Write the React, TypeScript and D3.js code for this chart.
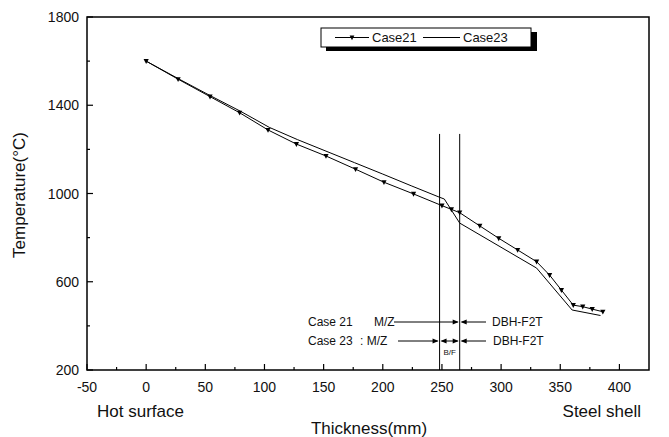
import React from "react";
import * as d3 from "d3";

const case21X = [0, 27, 54, 79, 103, 127, 152, 177, 201, 226, 250, 258, 265, 282, 298, 314, 330, 341, 351, 361, 369, 377, 386];
const case21Y = [1600, 1518, 1439, 1366, 1288, 1224, 1170, 1110, 1051, 998, 945, 928, 913, 853, 797, 744, 691, 630, 562, 494, 487, 476, 464];
const case23X = [0, 27, 54, 80, 104, 128, 152, 176, 200, 224, 248, 252, 265, 330, 360, 384];
const case23Y = [1600, 1521, 1444, 1372, 1300, 1244, 1192, 1140, 1088, 1035, 983, 975, 866, 662, 472, 447];
const xTicks = [-50, 0, 50, 100, 150, 200, 250, 300, 350, 400];
const xMinor = [-25, 25, 75, 125, 175, 225, 275, 325, 375];
const yTicks = [200, 600, 1000, 1400, 1800];
const yMinor = [400, 800, 1200, 1600];
const boundaries = [248, 265];
const legendNames = ["Case21", "Case23"];

const FONT = "'Liberation Sans', Arial, Helvetica, sans-serif";

export default function App() {
  const W = 669, H = 437;
  const x = d3.scaleLinear().domain([-50, 425]).range([87, 649]);
  const y = d3.scaleLinear().domain([200, 1800]).range([370, 17]);
  const line = d3.line<[number, number]>().x(d => x(d[0])).y(d => y(d[1]));
  const d21 = case21X.map((v, i) => [v, case21Y[i]] as [number, number]);
  const d23 = case23X.map((v, i) => [v, case23Y[i]] as [number, number]);
  const tri = (cx: number, cy: number, s = 2.6) =>
    `M${cx - s},${cy - s * 0.8}L${cx + s},${cy - s * 0.8}L${cx},${cy + s * 1.1}Z`;
  const arrowR = (tx: number, ty: number) => `M${tx},${ty}L${tx - 6},${ty - 2.5}L${tx - 6},${ty + 2.5}Z`;
  const arrowL = (tx: number, ty: number) => `M${tx},${ty}L${tx + 6},${ty - 2.5}L${tx + 6},${ty + 2.5}Z`;

  const bx0 = x(boundaries[0]), bx1 = x(boundaries[1]);
  const r1 = 322, r2 = 341;

  return (
    <svg width={W} height={H} style={{ position: "absolute", left: 0, top: 0, background: "#fff" }}
      fontFamily={FONT}>
      <rect x={0} y={0} width={W} height={H} fill="#fff" />
      {/* frame */}
      <rect x={x(-50)} y={y(1800)} width={x(425) - x(-50)} height={y(200) - y(1800)}
        fill="none" stroke="#000" strokeWidth={1.5} />
      {/* x ticks */}
      {xTicks.map(t => (
        <g key={"xt" + t}>
          <line x1={x(t)} x2={x(t)} y1={y(200)} y2={y(200) - 6} stroke="#000" strokeWidth={1.2} />
          <text x={x(t)} y={y(200) + 22} fontSize={14} textAnchor="middle" fill="#111">{t}</text>
        </g>
      ))}
      {xMinor.map(t => (
        <line key={"xm" + t} x1={x(t)} x2={x(t)} y1={y(200)} y2={y(200) - 3} stroke="#000" strokeWidth={1.2} />
      ))}
      {yTicks.map(t => (
        <g key={"yt" + t}>
          <line x1={x(-50)} x2={x(-50) + 6} y1={y(t)} y2={y(t)} stroke="#000" strokeWidth={1.2} />
          <text x={x(-50) - 8} y={y(t) + 5} fontSize={14} textAnchor="end" fill="#111">{t}</text>
        </g>
      ))}
      {yMinor.map(t => (
        <line key={"ym" + t} x1={x(-50)} x2={x(-50) + 3} y1={y(t)} y2={y(t)} stroke="#000" strokeWidth={1.2} />
      ))}
      {/* axis titles */}
      <text x={25} y={195} fontSize={17} textAnchor="middle" transform="rotate(-90 25 195)" fill="#111">Temperature(°C)</text>
      <text x={369} y={434} fontSize={17} textAnchor="middle" fill="#111">Thickness(mm)</text>
      <text x={97} y={417} fontSize={17} fill="#111">Hot surface</text>
      <text x={641} y={417} fontSize={17} textAnchor="end" fill="#111">Steel shell</text>

      {/* boundary lines */}
      {boundaries.map(b => (
        <line key={"b" + b} x1={x(b)} x2={x(b)} y1={y(1270)} y2={y(200)} stroke="#000" strokeWidth={1} />
      ))}

      {/* series */}
      <path d={line(d23) || ""} fill="none" stroke="#000" strokeWidth={1} />
      <path d={line(d21) || ""} fill="none" stroke="#000" strokeWidth={1} />
      {d21.map((p, i) => (
        <path key={"m" + i} d={tri(x(p[0]), y(p[1]))} fill="#000" />
      ))}

      {/* annotations */}
      <text x={308} y={r1 + 4} fontSize={12} fill="#111">Case 21</text>
      <text x={374} y={r1 + 4} fontSize={12} fill="#111">M/Z</text>
      <line x1={394} x2={bx1 - 2} y1={r1} y2={r1} stroke="#000" strokeWidth={1} />
      <path d={arrowR(bx1 - 1, r1)} fill="#000" />
      <line x1={bx1 + 2} x2={486} y1={r1} y2={r1} stroke="#000" strokeWidth={1} />
      <path d={arrowL(bx1 + 1, r1)} fill="#000" />
      <text x={492} y={r1 + 4} fontSize={12} fill="#111">DBH-F2T</text>

      <text x={308} y={r2 + 4} fontSize={12} fill="#111">Case 23</text>
      <text x={360} y={r2 + 4} fontSize={12} fill="#111">: M/Z</text>
      <line x1={398} x2={bx0 - 2} y1={r2} y2={r2} stroke="#000" strokeWidth={1} />
      <path d={arrowR(bx0 - 1, r2)} fill="#000" />
      <line x1={bx0 + 2} x2={bx1 - 2} y1={r2} y2={r2} stroke="#000" strokeWidth={1} />
      <path d={arrowL(bx0 + 1, r2)} fill="#000" />
      <path d={arrowR(bx1 - 1, r2)} fill="#000" />
      <line x1={bx1 + 2} x2={486} y1={r2} y2={r2} stroke="#000" strokeWidth={1} />
      <path d={arrowL(bx1 + 1, r2)} fill="#000" />
      <text x={493} y={r2 + 4} fontSize={12} fill="#111">DBH-F2T</text>
      <text x={(bx0 + bx1) / 2} y={355} fontSize={8} textAnchor="middle" fill="#111">B/F</text>

      {/* legend */}
      <rect x={326} y={32} width={211} height={19} fill="#000" />
      <rect x={321} y={28} width={210} height={19} fill="#fff" stroke="#000" strokeWidth={1} />
      <line x1={335} x2={369} y1={37.5} y2={37.5} stroke="#000" strokeWidth={1} />
      <path d={tri(352, 37.5, 2.4)} fill="#000" />
      <text x={372} y={42} fontSize={13} fill="#111">{legendNames[0]}</text>
      <line x1={423} x2={460} y1={37.5} y2={37.5} stroke="#000" strokeWidth={1} />
      <text x={463} y={42} fontSize={13} fill="#111">{legendNames[1]}</text>
    </svg>
  );
}
